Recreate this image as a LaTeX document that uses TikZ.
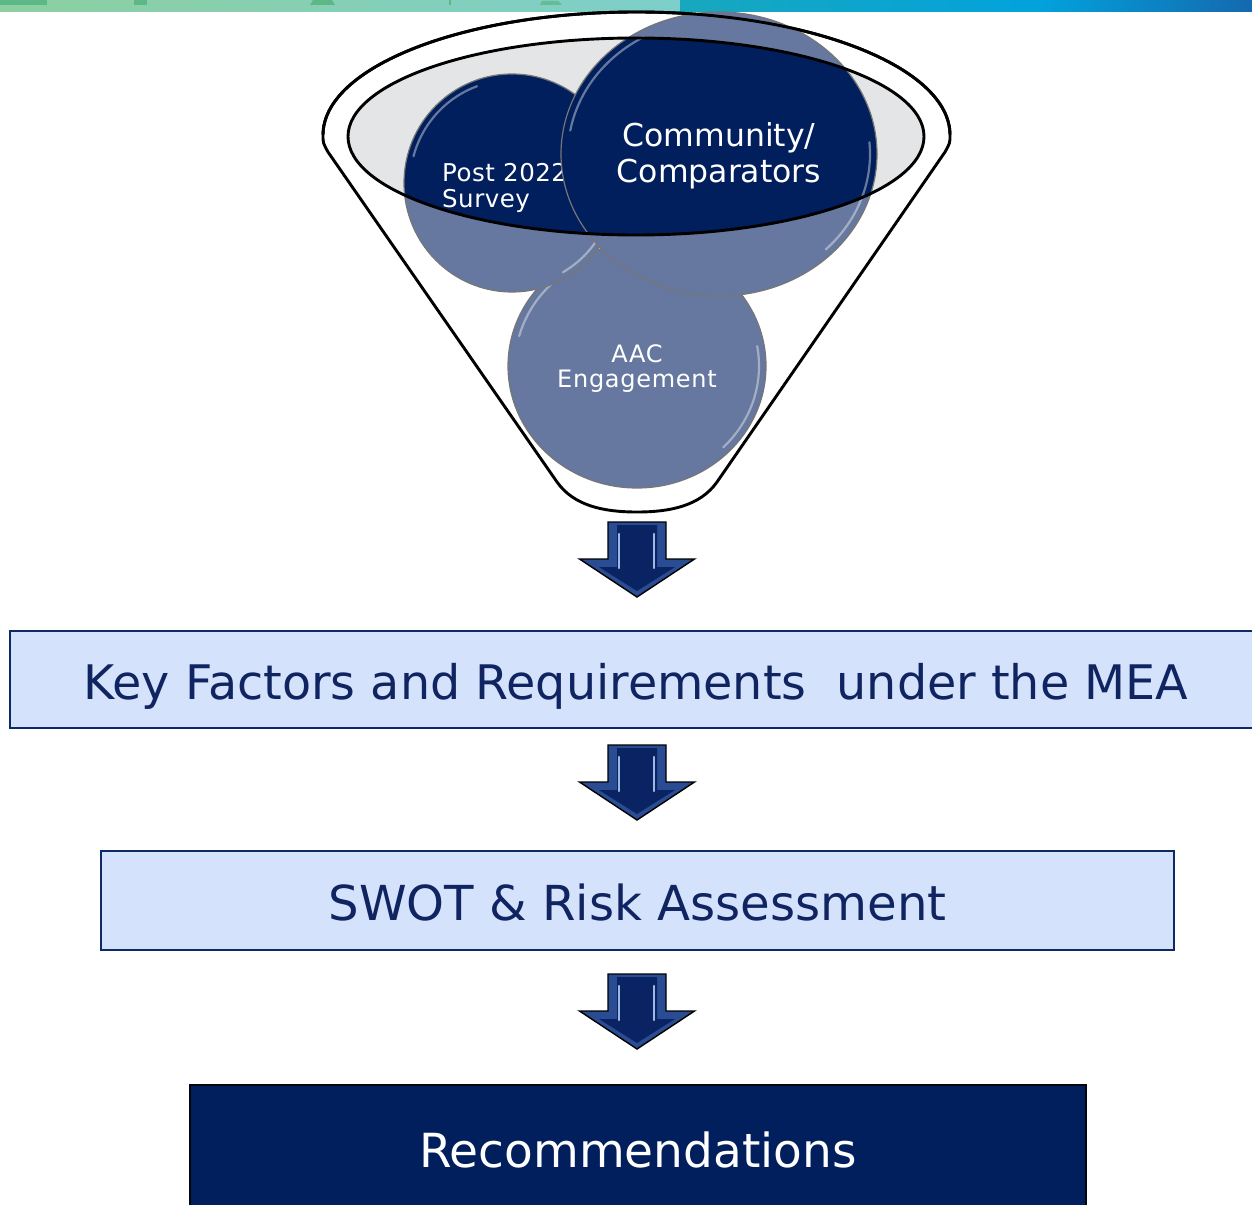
\documentclass[tikz,border=0pt]{standalone}
\usepackage{fontspec}
\setmainfont{DejaVu Sans}
\definecolor{navy}{HTML}{001F5C}
\definecolor{slate}{HTML}{66789F}
\definecolor{boxfill}{HTML}{D5E2FB}
\definecolor{boxline}{HTML}{0E2A66}
\definecolor{boxtext}{HTML}{0F2461}
\definecolor{ellgray}{HTML}{E4E5E7}
\definecolor{ringgray}{HTML}{767676}
\definecolor{arrowmid}{HTML}{2A4C92}
\definecolor{arrowdark}{HTML}{0A2463}
\definecolor{arrowhi}{HTML}{9FB8E6}
\definecolor{bnA}{HTML}{8DCFA0}
\definecolor{bnB}{HTML}{7DCFCB}
\definecolor{bnC}{HTML}{18A8BE}
\definecolor{bnD}{HTML}{02A2DC}
\definecolor{bnE}{HTML}{1569AE}
\definecolor{bnMark}{HTML}{5DB888}
\begin{document}
\begin{tikzpicture}[x=1pt,y=-1pt,
  funnelline/.style={draw=black,line width=2.9pt,line join=round},
  ringline/.style={draw=ringgray,line width=1.2pt},
  gloss/.style={draw=white,opacity=0.4,line width=2.2pt,line cap=round},
  ctext/.style={text=white,inner sep=0pt},
  lightbox/.style={draw=boxline,line width=2pt,fill=boxfill,text=boxtext,
    text height=39pt,text depth=0pt,inner sep=0pt},
  darkbox/.style={draw=black!85!navy,line width=2pt,fill=navy,text=white,
    text height=39pt,text depth=0pt,inner sep=0pt},
  downarrow/.pic={
    \path[draw=black,line width=1.4pt,fill=arrowmid,line join=miter]
      (-29,0) -- (29,0) -- (29,37) -- (57.5,37) -- (0,75) -- (-57.5,37) -- (-29,37) -- cycle;
    \fill[arrowdark] (-20,3) -- (20,3) -- (20,45) -- (38,45) -- (0,69) -- (-38,45) -- (-20,45) -- cycle;
    \draw[arrowhi,line width=2.4pt,line cap=round] (-18,12) -- (-18,46);
    \draw[arrowhi,line width=2.4pt,line cap=round] (17,12) -- (17,46);
  }
]
\useasboundingbox (0,0) rectangle (1252,1204);
\clip (0,0) rectangle (1252,1204);

% top banner
\shade[left color=bnA,right color=bnB] (0,0) rectangle (680,11.5);
\shade[left color=bnC,right color=bnD] (680,0) rectangle (1040,11.5);
\shade[left color=bnD,right color=bnE] (1040,0) rectangle (1252,11.5);
\fill[bnMark] (0,0) rectangle (47,5);
\fill[bnMark] (134,0) rectangle (147,5);
\fill[bnMark] (313,0) -- (332,0) -- (335,5) -- (310,5) -- cycle;
\fill[bnMark] (449,0) rectangle (451,5);
\fill[bnMark!80!bnB] (540,5) -- (542,1) -- (558,1) -- (562,5) -- cycle;

% funnel outline
\draw[funnelline] (323,135) arc[start angle=180,end angle=360,x radius=313.5,y radius=123]
  .. controls (950,143) .. (945,152)
  -- (717,482) .. controls (700,506) and (670,512) .. (637,512)
  .. controls (604,512) and (574,506) .. (557,482)
  -- (328,152) .. controls (323,143) .. (323,135) -- cycle;

% inner ellipse fill
\fill[ellgray] (636,136.5) ellipse[x radius=288,y radius=98.5];

% AAC circle
\fill[slate] (637,366) ellipse[x radius=129,y radius=122];
\draw[ringline] (637,366) ellipse[x radius=129,y radius=122];
\draw[gloss] (637,366) ++(195:122 and 115) arc[start angle=195,end angle=245,x radius=122,y radius=115];
\draw[gloss] (637,366) ++(-10:122 and 115) arc[start angle=-10,end angle=45,x radius=122,y radius=115];
\node[ctext,font=\fontsize{24}{25}\selectfont\addfontfeatures{LetterSpace=3},align=center] (aac) at (637,369) {AAC\\Engagement};

% Post 2022 circle
\fill[slate] (512,183) ellipse[x radius=108,y radius=109];
\begin{scope}
  \clip (636,136.5) ellipse[x radius=288,y radius=98.5];
  \fill[navy] (512,183) ellipse[x radius=108,y radius=109];
\end{scope}
\draw[ringline] (512,183) ellipse[x radius=108,y radius=109];
\draw[gloss] (512,183) ++(195:102 and 103) arc[start angle=195,end angle=250,x radius=102,y radius=103];
\draw[gloss] (512,183) ++(25:102 and 103) arc[start angle=25,end angle=60,x radius=102,y radius=103];
\node[ctext,font=\fontsize{24.5}{25.7}\selectfont\addfontfeatures{LetterSpace=2},align=left,anchor=north west] (post) at (442,163) {Post 2022\\Survey};

% Community circle
\fill[slate] (719,154) ellipse[x radius=158,y radius=142];
\begin{scope}
  \clip (636,136.5) ellipse[x radius=288,y radius=98.5];
  \fill[navy] (719,154) ellipse[x radius=158,y radius=142];
\end{scope}
\draw[ringline] (719,154) ellipse[x radius=158,y radius=142];
\draw[gloss] (719,154) ++(190:151 and 135) arc[start angle=190,end angle=240,x radius=151,y radius=135];
\draw[gloss] (719,154) ++(-5:151 and 135) arc[start angle=-5,end angle=45,x radius=151,y radius=135];
\node[ctext,font=\fontsize{31.5}{36}\selectfont,align=center] (comm) at (719,156) {Community/\\Comparators};

% ellipse outlines on top
\draw[funnelline] (636,136.5) ellipse[x radius=288,y radius=98.5];
\draw[funnelline] (323,135) arc[start angle=180,end angle=360,x radius=313.5,y radius=123];

% arrows
\pic (arA) at (637,522) {downarrow};
\pic (arB) at (637,745) {downarrow};
\pic (arC) at (637,974) {downarrow};

% boxes
\node[lightbox,minimum width=1252pt,minimum height=97pt,font=\fontsize{47.6}{56}\selectfont] (kf) at (636,679.5)
  {Key Factors and Requirements~ under the MEA};
\node[lightbox,minimum width=1073pt,minimum height=99pt,font=\fontsize{48.2}{56}\selectfont] (swot) at (637.5,900.5)
  {SWOT \& Risk Assessment};
\node[darkbox,minimum width=896pt,minimum height=125pt,font=\fontsize{47}{56}\selectfont] (rec) at (638,1147.5)
  {Recommendations};
\end{tikzpicture}
\end{document}
